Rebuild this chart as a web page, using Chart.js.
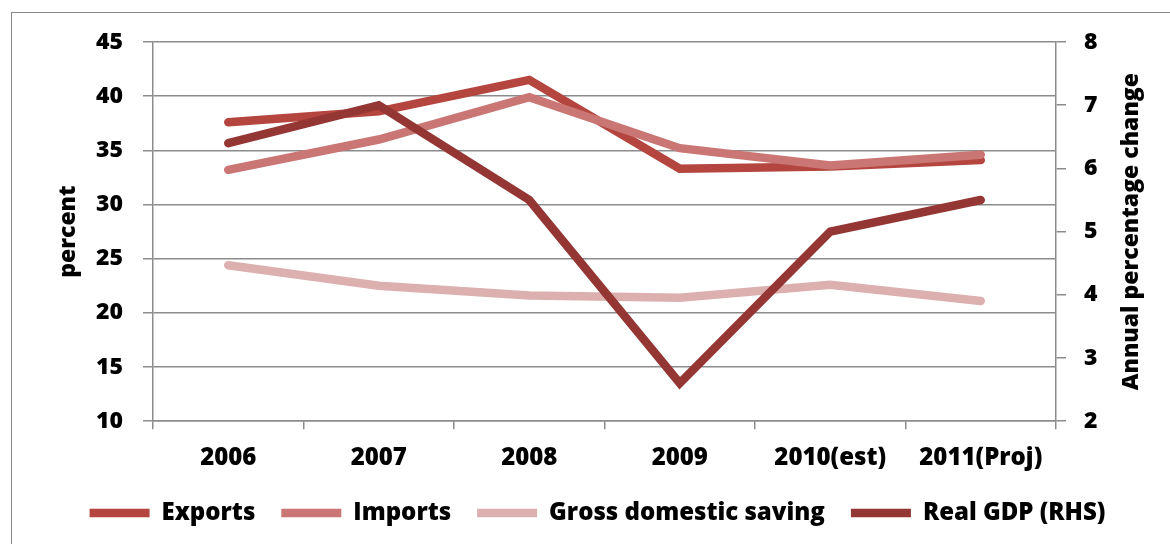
<!DOCTYPE html>
<html>
<head>
<meta charset="utf-8">
<script src="https://cdn.jsdelivr.net/npm/chart.js@4"></script>
<style>
  html, body { margin:0; padding:0; background:#fff; overflow:hidden; }
  #wrap { position:relative; width:1170px; height:544px; }
  #frame { position:absolute; left:11px; top:12px; width:1200px; height:600px;
           border-left:1.5px solid #8a8a8a; border-top:1.5px solid #8a8a8a; }
  canvas { position:absolute; left:0; top:0; }
</style>
</head>
<body>
<div id="wrap">
  <div id="frame"></div>
  <canvas id="chart" width="1170" height="544"></canvas>
</div>
<script>
// ===== DATA =====
const years = ["2006", "2007", "2008", "2009", "2010(est)", "2011(Proj)"];
const exportsPct = [37.6, 38.6, 41.5, 33.3, 33.5, 34.1];
const importsPct = [33.2, 36.0, 39.9, 35.2, 33.6, 34.6];
const savingPct = [24.4, 22.5, 21.6, 21.4, 22.6, 21.1];
const realGdp = [6.4, 7.0, 5.5, 2.6, 5.0, 5.5];

const leftTicks = [10, 15, 20, 25, 30, 35, 40, 45];
const rightTicks = [2, 3, 4, 5, 6, 7, 8];

// ===== STYLE =====
const FONT = "'Open Sans', 'DejaVu Sans', sans-serif";
const WEIGHT = "800";
const GRID = "#8c8c8c";

// right axis title reads bottom-to-top, so draw it by hand
const rightTitle = {
  id: "rightTitle",
  afterDraw(chart){
    const {ctx, chartArea} = chart;
    const x = chart.scales.y1.right - 19;
    ctx.save();
    ctx.translate(x, (chartArea.top + chartArea.bottom) / 2);
    ctx.rotate(-Math.PI / 2);
    ctx.font = WEIGHT + " 23px " + FONT;
    ctx.fillStyle = "#000";
    ctx.textAlign = "center";
    ctx.textBaseline = "middle";
    ctx.fillText("Annual percentage change", 0, 0);
    ctx.restore();
  }
};

function line(label, data, color, axis, order){
  return {
    label, data, yAxisID: axis, order,
    borderColor: color, backgroundColor: color,
    borderWidth: 8.5, borderCapStyle: "round", borderJoinStyle: "miter",
    pointRadius: 0, tension: 0, fill: false
  };
}

const tickFont = { family: FONT, size: 23, weight: WEIGHT };
const wideFont = { family: FONT, size: 24, weight: WEIGHT };
const ctx = document.getElementById("chart").getContext("2d");

new Chart(ctx, {
  type: "line",
  data: {
    labels: years,
    datasets: [
      line("Exports", exportsPct, "#b4463f", "y", 4),
      line("Imports", importsPct, "#c97674", "y", 3),
      line("Gross domestic saving", savingPct, "#dcb0af", "y", 2),
      line("Real GDP (RHS)", realGdp, "#943634", "y1", 1)
    ]
  },
  options: {
    responsive: false,
    animation: false,
    layout: { padding: { left: 45, right: 20, top: 42, bottom: 9 } },
    plugins: {
      tooltip: { enabled: false },
      legend: {
        position: "bottom",
        labels: {
          usePointStyle: true,
          pointStyle: "line",
          pointStyleWidth: 60,
          color: "#000",
          font: wideFont,
          padding: 26,
          sort: (a, b) => a.datasetIndex - b.datasetIndex
        }
      }
    },
    scales: {
      x: {
        offset: true,
        afterFit(scale){ scale.height -= 13; },
        grid: { offset: true, drawOnChartArea: false, drawTicks: true, tickLength: 8, color: GRID, lineWidth: 1.5 },
        border: { color: GRID, width: 1.5 },
        ticks: { color: "#000", font: wideFont, padding: 15, maxRotation: 0 }
      },
      y: {
        position: "left",
        min: 10, max: 45,
        afterFit(scale){ scale.width = 108; },
        afterBuildTicks(scale){ scale.ticks = leftTicks.map(v => ({value: v})); },
        grid: { color: GRID, lineWidth: 1.5, tickLength: 10 },
        border: { color: GRID, width: 1.5 },
        ticks: { color: "#000", font: tickFont, padding: 20 },
        title: { display: true, text: "percent", color: "#000", padding: { top: 10, bottom: 0 }, font: tickFont }
      },
      y1: {
        position: "right",
        min: 2, max: 8,
        afterFit(scale){ scale.width = 94; },
        afterBuildTicks(scale){ scale.ticks = rightTicks.map(v => ({value: v})); },
        grid: { drawOnChartArea: false, color: GRID, lineWidth: 1.5, tickLength: 10 },
        border: { color: GRID, width: 1.5 },
        ticks: { color: "#000", font: tickFont, padding: 18 }
      }
    }
  },
  plugins: [rightTitle]
});
</script>
</body>
</html>
